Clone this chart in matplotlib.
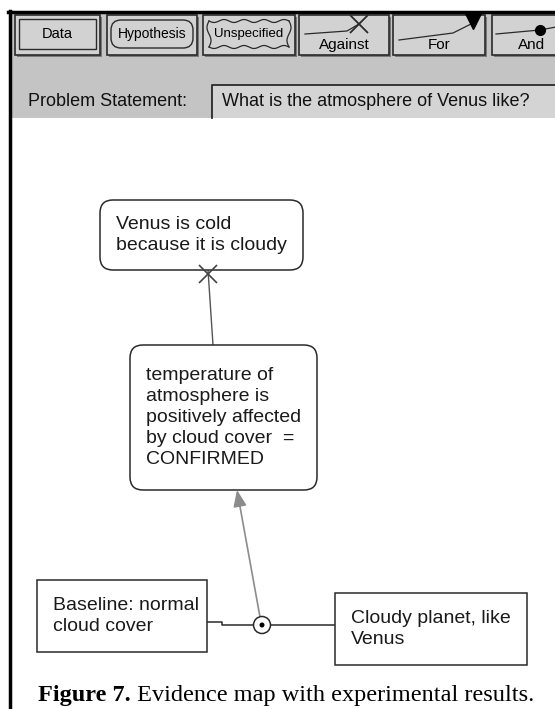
import numpy as np
import matplotlib
matplotlib.use("Agg")
import matplotlib.pyplot as plt
from matplotlib.patches import Rectangle, FancyBboxPatch, Circle

# toolbar buttons
button_labels = ["Data", "Hypothesis", "Unspecified", "Against", "For", "And"]
button_x = [15, 107, 203, 299, 393, 492]
button_w = [85, 90, 92, 90, 92, 80]

problem_label = "Problem Statement:"
problem_text = "What is the atmosphere of Venus like?"

# nodes of the evidence map
node_texts = [
    "Venus is cold\nbecause it is cloudy",
    "temperature of\natmosphere is\npositively affected\nby cloud cover  =\nCONFIRMED",
    "Baseline: normal\ncloud cover",
    "Cloudy planet, like\nVenus",
]
node_rounded = [True, True, False, False]
# box extents in pixels: x0, y0, x1, y1
node_boxes = [
    (100, 200, 303, 270),
    (130, 345, 317, 490),
    (37, 580, 207, 652),
    (335, 593, 527, 665),
]

caption_bold = "Figure 7."
caption_rest = " Evidence map with experimental results."

W, H = 555, 709
fig = plt.figure(figsize=(W / 100, H / 100), dpi=100)
ax = fig.add_axes([0, 0, 1, 1])
ax.set_xlim(0, W)
ax.set_ylim(H, 0)
ax.axis("off")

ui_font = "Liberation Sans"
gray = "#c4c4c4"
edge = "#2a2a2a"

# frame + toolbar panel
ax.add_patch(Rectangle((10, 12), W, 106, facecolor=gray, edgecolor="none", zorder=0))
ax.plot([8, W], [12, 12], color="black", lw=2.5, zorder=5)
ax.plot([9.5, 9.5], [11, H], color="black", lw=2.5, zorder=5)

# buttons
for label, x, w in zip(button_labels, button_x, button_w):
    ax.add_patch(Rectangle((x + 2, 17), w, 40, facecolor="#7a7a7a", edgecolor="none", zorder=1))
    ax.add_patch(Rectangle((x, 15), w, 40, facecolor="#d2d2d2", edgecolor=edge, lw=1.2, zorder=2))
    cx = x + w / 2
    if label == "Data":
        ax.add_patch(Rectangle((x + 4, 19), w - 8, 30, facecolor="none", edgecolor=edge, lw=1.0, zorder=3))
        ax.text(cx, 34, label, ha="center", va="center", fontsize=10.5, family=ui_font, zorder=4)
    elif label == "Hypothesis":
        ax.add_patch(FancyBboxPatch((x + 4, 20), w - 8, 28, boxstyle="round,pad=0,rounding_size=10",
                                    facecolor="none", edgecolor=edge, lw=1.0, zorder=3))
        ax.text(cx, 34, label, ha="center", va="center", fontsize=10, family=ui_font, zorder=4)
    elif label == "Unspecified":
        t = np.linspace(0, 1, 200)
        xs = x + 6 + t * (w - 12)
        ax.plot(xs, 21 + 1.5 * np.sin(t * 2 * np.pi * 4), color=edge, lw=0.9, zorder=3)
        ax.plot(xs, 47 + 1.5 * np.sin(t * 2 * np.pi * 4), color=edge, lw=0.9, zorder=3)
        ys = np.linspace(21, 47, 60)
        ax.plot(x + 6 - 2 * np.sin((ys - 21) / 26 * np.pi * 2), ys, color=edge, lw=0.9, zorder=3)
        ax.plot(x + w - 6 + 2 * np.sin((ys - 21) / 26 * np.pi * 2), ys, color=edge, lw=0.9, zorder=3)
        ax.text(cx, 34, label, ha="center", va="center", fontsize=9.5, family=ui_font, zorder=4)
    else:
        ax.text(cx, 45, label, ha="center", va="center", fontsize=11, family=ui_font, zorder=4)
        if label == "Against":
            ax.plot([x + 6, x + 48, x + 60], [34, 31, 24], color=edge, lw=0.9, zorder=3)
            ax.plot(x + 60, 24, marker="x", ms=13, mew=1.3, color=edge, zorder=4)
        elif label == "For":
            ax.plot([x + 6, x + 60, x + w - 14], [40, 33, 24], color=edge, lw=0.9, zorder=3)
            ax.plot(x + w - 12, 21, marker="v", ms=11, color="black", zorder=4)
        else:
            ax.plot([x + 4, x + 48, x + w], [34, 30, 24], color=edge, lw=0.9, zorder=3)
            ax.plot(x + 48, 30, marker="o", ms=7, color="black", zorder=4)

# problem statement row
ax.text(28, 102, problem_label, ha="left", va="center", fontsize=13, family=ui_font, color="#111111")
ax.add_patch(Rectangle((212, 85), W, 33, facecolor="#d4d4d4", edgecolor="none", zorder=1))
ax.plot([212, 212, W], [118, 85, 85], color=edge, lw=1.3, zorder=2)
ax.text(222, 102, problem_text, ha="left", va="center", fontsize=13, family=ui_font,
        color="#111111", zorder=3)

# nodes
for text, rounded, (x0, y0, x1, y1) in zip(node_texts, node_rounded, node_boxes):
    if rounded:
        box = FancyBboxPatch((x0, y0), x1 - x0, y1 - y0, boxstyle="round,pad=0,rounding_size=13",
                             facecolor="white", edgecolor=edge, lw=1.1, zorder=2)
    else:
        box = Rectangle((x0, y0), x1 - x0, y1 - y0, facecolor="white", edgecolor=edge, lw=1.1, zorder=2)
    ax.add_patch(box)
    ax.text(x0 + 16, (y0 + y1) / 2, text, ha="left", va="center", fontsize=14, family=ui_font,
            color="#1a1a1a", linespacing=1.3, zorder=3)

# links
v_box, t_box, b_box, c_box = node_boxes
join = (262, 625)
# against: hypothesis-test -> claim, with X at the claim end
ax.plot([213, 208], [t_box[1], v_box[3]], color="#555555", lw=1.0, zorder=1)
ax.plot(208, v_box[3] + 4, marker="x", ms=13, mew=1.2, color="#444444", zorder=3)
# for: experiment join -> hypothesis-test, grey arrow
ax.annotate("", xy=(237, t_box[3]), xytext=(join[0] - 2, join[1] - 8),
            arrowprops=dict(arrowstyle="-|>,head_length=1.0,head_width=0.4", color="#8c8c8c",
                            lw=1.2, shrinkA=0, shrinkB=0), zorder=1)
# and: baseline -- join -- cloudy
ax.plot([b_box[2], 222, 222, join[0] - 9], [622, 622, 625, 625], color=edge, lw=1.1, zorder=1)
ax.plot([join[0] + 9, c_box[0]], [625, 625], color=edge, lw=1.1, zorder=1)
ax.add_patch(Circle(join, 8.5, facecolor="white", edgecolor=edge, lw=1.1, zorder=3))
ax.add_patch(Circle(join, 2.5, facecolor="black", edgecolor="none", zorder=4))

# caption
fig.canvas.draw()
renderer = fig.canvas.get_renderer()
t1 = ax.text(38, 696, caption_bold, ha="left", va="center", fontsize=17.5, family="Liberation Serif",
             fontweight="bold")
bb = t1.get_window_extent(renderer)
x_end = ax.transData.inverted().transform((bb.x1, bb.y0))[0]
ax.text(x_end, 696, caption_rest, ha="left", va="center", fontsize=17.5, family="Liberation Serif")

fig.savefig("out.png", dpi=100)
